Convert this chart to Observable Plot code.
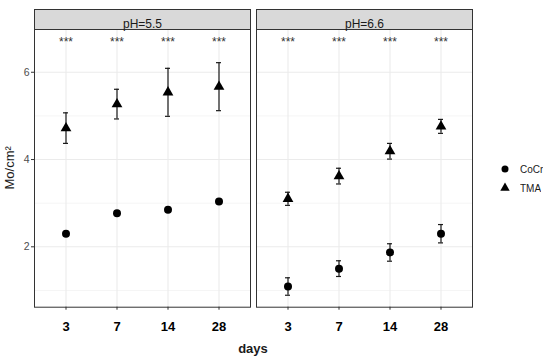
<!DOCTYPE html>
<html><head><meta charset="utf-8">
<script src="https://cdn.jsdelivr.net/npm/d3@7"></script>
<script src="https://cdn.jsdelivr.net/npm/@observablehq/plot@0.6"></script>
<style>
body{margin:0;background:#fff;font-family:"Liberation Sans",Arial,sans-serif;}
#wrap{position:relative;width:550px;height:362px;overflow:hidden;}
#legend{position:absolute;left:498px;top:159.5px;width:100px;white-space:nowrap;}
.lg-swatches{font-size:10px;color:#1a1a1a;font-family:"Liberation Sans",Arial,sans-serif;margin:0;columns:auto !important;width:100px;}
.lg-swatch{height:19px;margin:0;padding:0;display:flex;align-items:center;overflow:visible !important;text-overflow:clip !important;width:100px;}
.lg-swatch svg{margin-right:8px;flex-shrink:0;}
</style></head><body><div id="wrap"></div>
<script>
const days = ["3", "7", "14", "28"];
const panels = ["pH=5.5", "pH=6.6"];
const materials = ["CoCr", "TMA"];
const cocrMean55 = [2.30, 2.77, 2.85, 3.04];
const cocrErr55  = [0.04, 0.04, 0.04, 0.04];
const tmaMean55  = [4.72, 5.27, 5.54, 5.67];
const tmaErr55   = [0.35, 0.34, 0.55, 0.55];
const cocrMean66 = [1.09, 1.50, 1.87, 2.30];
const cocrErr66  = [0.20, 0.18, 0.20, 0.21];
const tmaMean66  = [3.10, 3.62, 4.19, 4.76];
const tmaErr66   = [0.15, 0.18, 0.18, 0.16];
const sigLabels  = ["***", "***", "***", "***"];
const sigY = 6.70;
const yTicks = [2, 4, 6];
const yMinor = [1, 3, 5];
const yDomain = [0.616, 6.98];

const series = [
  {panel: panels[0], material: materials[0], mean: cocrMean55, err: cocrErr55},
  {panel: panels[0], material: materials[1], mean: tmaMean55, err: tmaErr55},
  {panel: panels[1], material: materials[0], mean: cocrMean66, err: cocrErr66},
  {panel: panels[1], material: materials[1], mean: tmaMean66, err: tmaErr66}
];
const rows = series.flatMap(s => days.map((d, i) => ({
  panel: s.panel, material: s.material, day: d, mean: s.mean[i],
  lo: s.mean[i] - s.err[i], hi: s.mean[i] + s.err[i]
})));
const sig = panels.flatMap(p => days.map((d, i) => ({panel: p, day: d, text: sigLabels[i]})));

const W = 550, H = 362, mL = 34, mR = 77, mT = 29, mB = 55.3;
const frameH = H - mT - mB;
const capInner = 0.903;               // band is the error-bar cap width
const capOuter = 0.6 - (1 - capInner) / 2;

const plot = Plot.plot({
  width: W, height: H,
  marginLeft: mL, marginRight: mR, marginTop: mT, marginBottom: mB,
  style: {fontFamily: "Liberation Sans, Arial, sans-serif", background: "white", overflow: "visible"},
  fx: {domain: panels, paddingInner: 0.025, paddingOuter: 0, axis: null, label: null},
  x: {domain: days, type: "band", paddingInner: capInner, paddingOuter: capOuter, axis: null, label: null},
  y: {domain: yDomain, axis: null, label: null},
  symbol: {domain: materials, range: ["circle", "triangle"]},
  marks: [
    Plot.ruleY(yMinor, {stroke: "#f3f3f3", strokeWidth: 0.8}),
    Plot.ruleY(yTicks, {stroke: "#ebebeb", strokeWidth: 1.1}),
    Plot.ruleX(days, {x: d => d, stroke: "#ebebeb", strokeWidth: 1.1}),
    Plot.ruleX(rows, {fx: "panel", x: "day", y1: "lo", y2: "hi", stroke: "#1a1a1a", strokeWidth: 1.2}),
    Plot.tickY(rows, {fx: "panel", x: "day", y: "lo", stroke: "#1a1a1a", strokeWidth: 1.2}),
    Plot.tickY(rows, {fx: "panel", x: "day", y: "hi", stroke: "#1a1a1a", strokeWidth: 1.2}),
    Plot.dot(rows, {fx: "panel", x: "day", y: "mean", symbol: "material", fill: "black", r: 4}),
    Plot.text(sig, {fx: "panel", x: "day", y: () => sigY, text: "text", fontSize: 12, fill: "#333"}),
    Plot.frame({stroke: "#333", strokeWidth: 1}),
    Plot.frame({fill: "#d9d9d9", stroke: "#333", strokeWidth: 1, insetTop: -20, insetBottom: frameH}),
    Plot.text(panels, {fx: d => d, text: d => d, frameAnchor: "top", dy: -10, fontSize: 12, fill: "#1a1a1a"}),
    Plot.axisY({ticks: yTicks, tickFormat: d => String(d), tickSize: 3, tickPadding: 2, fontSize: 10.5, fill: "#4d4d4d", stroke: "#333", label: null}),
    Plot.axisX({tickSize: 3, tickPadding: 12, fontSize: 13, fontWeight: "bold", fill: "black", stroke: "#333", label: null})
  ]
});

const wrap = document.getElementById("wrap");
wrap.appendChild(plot);

const svg = d3.select(plot);
const fx = plot.scale("fx");
const right = fx.apply(panels[1]) + fx.bandwidth;
svg.append("text")
  .attr("x", (mL + right) / 2).attr("y", 353)
  .attr("text-anchor", "middle").attr("font-size", 13).attr("font-weight", "bold")
  .attr("fill", "#1a1a1a").text("days");
svg.append("text")
  .attr("transform", `translate(14,${mT + frameH / 2}) rotate(-90)`)
  .attr("text-anchor", "middle").attr("font-size", 13)
  .attr("fill", "#1a1a1a").text("Mo/cm²");

const legend = plot.legend("symbol", {columns: 1, fill: "black", r: 4, className: "lg", swatchSize: 14});
const lg = document.createElement("div");
lg.id = "legend";
lg.appendChild(legend);
wrap.appendChild(lg);
</script>
</body></html>
